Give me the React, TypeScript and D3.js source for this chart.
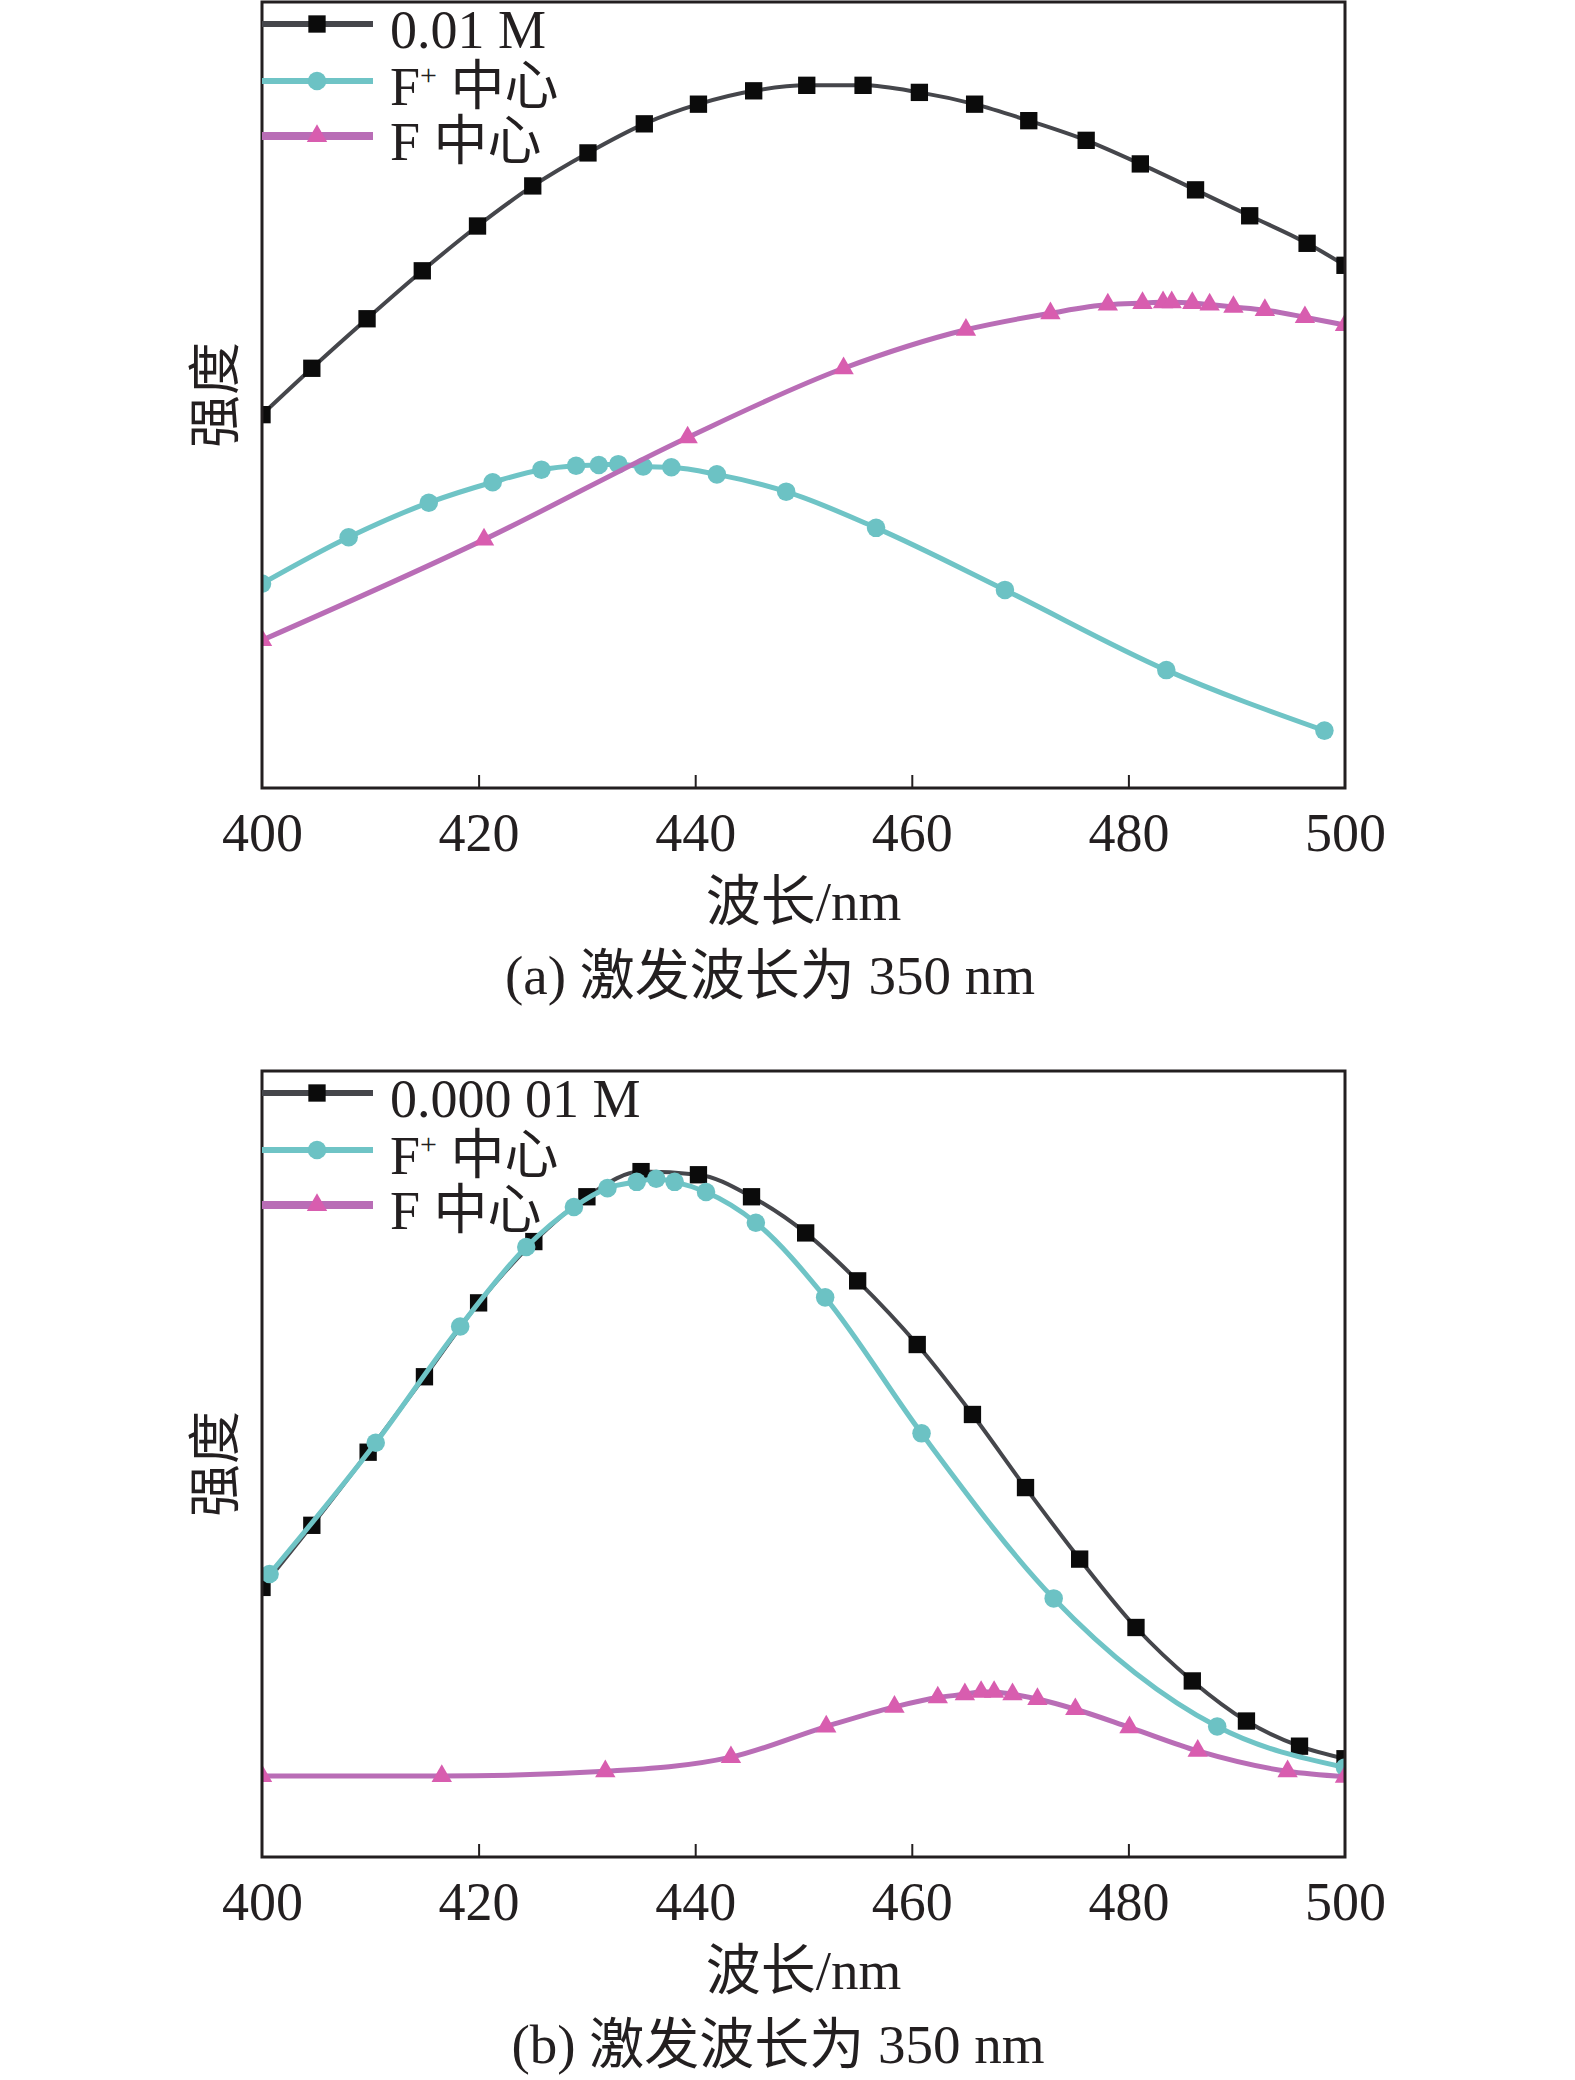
import { useEffect, useRef } from "react";
import * as d3 from "d3";

// x axis
const xTicks = [400, 420, 440, 460, 480, 500];

// (a) 0.01 M sample, excitation 350 nm (intensity in arbitrary units 0-100)
const aSampleX = [400, 404.6, 409.7, 414.8, 419.9, 425.0, 430.1, 435.3, 440.3, 445.4, 450.3, 455.5, 460.7, 465.8, 470.8, 476.1, 481.1, 486.2, 491.2, 496.5, 500];
const aSampleY = [47.5, 53.4, 59.7, 65.8, 71.5, 76.6, 80.8, 84.5, 87.0, 88.7, 89.4, 89.4, 88.5, 87.0, 84.9, 82.4, 79.4, 76.1, 72.8, 69.3, 66.5];
const aFplusX = [400, 408.0, 415.4, 421.3, 425.8, 429.0, 431.1, 432.9, 435.2, 437.8, 442.0, 448.4, 456.7, 468.6, 483.5, 498.1];
const aFplusY = [26.0, 31.9, 36.3, 38.9, 40.5, 41.0, 41.1, 41.2, 40.9, 40.8, 39.9, 37.7, 33.1, 25.2, 15.0, 7.3];
const aFX = [400, 420.5, 439.3, 453.7, 465.0, 472.8, 478.1, 481.3, 483.2, 484.0, 485.9, 487.5, 489.7, 492.6, 496.3, 500];
const aFY = [18.8, 31.6, 44.6, 53.4, 58.3, 60.4, 61.5, 61.7, 61.8, 61.8, 61.7, 61.5, 61.2, 60.8, 59.9, 58.9];

// (b) 0.000 01 M sample
const bSampleX = [400, 404.6, 409.8, 415.0, 420.0, 425.1, 430.0, 435.0, 440.3, 445.2, 450.2, 455.0, 460.5, 465.6, 470.5, 475.5, 480.7, 485.9, 490.9, 495.8, 500];
const bSampleY = [34.3, 42.2, 51.5, 61.1, 70.5, 78.3, 84.0, 87.2, 86.8, 84.0, 79.4, 73.3, 65.2, 56.3, 47.0, 37.9, 29.2, 22.4, 17.3, 14.1, 12.5];
const bFplusX = [400.7, 410.5, 418.3, 424.4, 428.8, 431.9, 434.6, 436.4, 438.1, 441.0, 445.6, 452.0, 460.9, 473.1, 488.2, 500];
const bFplusY = [36.0, 52.7, 67.5, 77.6, 82.7, 85.1, 85.9, 86.3, 85.9, 84.6, 80.7, 71.2, 53.9, 32.9, 16.6, 11.4];
const bFX = [400, 416.6, 431.7, 443.3, 452.1, 458.4, 462.4, 464.9, 466.4, 467.6, 469.3, 471.6, 475.1, 480.1, 486.4, 494.7, 500];
const bFY = [10.3, 10.3, 10.9, 12.7, 16.6, 19.1, 20.3, 20.7, 21.0, 21.0, 20.7, 20.1, 18.8, 16.5, 13.5, 10.9, 10.2];

const PLOT_LEFT = 262;
const PLOT_RIGHT = 1345;
const PLOT_H = 786;
const INK = "#231f20";
const FONT = '"Liberation Serif", "Times New Roman", "Noto Sans CJK SC", serif';

interface Series {
  xs: number[];
  ys: number[];
  label: string;
  sup?: string;
  tail?: string;
  lineColor: string;
  markerColor: string;
  lineWidth: number;
  legendWidth: number;
  shape: d3.SymbolType;
  markerSize: number;
}

interface PanelProps {
  id: string;
  top: number;
  caption: string;
  captionX: number;
  series: Series[];
}

const style = {
  sample: { lineColor: "#45464b", markerColor: "#0b0b0b", lineWidth: 4, legendWidth: 6, shape: d3.symbolSquare, markerSize: 300 },
  fplus: { lineColor: "#6fc4c6", markerColor: "#6cc2c4", lineWidth: 5, legendWidth: 6, shape: d3.symbolCircle, markerSize: 270 },
  f: { lineColor: "#b96db6", markerColor: "#d85daf", lineWidth: 5, legendWidth: 8, shape: d3.symbolTriangle, markerSize: 180 },
};

function Panel({ id, top, caption, captionX, series }: PanelProps) {
  const gRef = useRef<SVGGElement>(null);

  useEffect(() => {
    if (!gRef.current) return;
    const g = d3.select(gRef.current);
    g.selectAll("*").remove();

    const bottom = top + PLOT_H;
    const x = d3.scaleLinear().domain([400, 500]).range([PLOT_LEFT, PLOT_RIGHT]);
    const y = d3.scaleLinear().domain([0, 100]).range([bottom, top]);

    g.append("clipPath")
      .attr("id", `clip-${id}`)
      .append("rect")
      .attr("x", PLOT_LEFT)
      .attr("y", top)
      .attr("width", PLOT_RIGHT - PLOT_LEFT)
      .attr("height", PLOT_H);

    const plot = g.append("g").attr("clip-path", `url(#clip-${id})`);

    const line = d3
      .line<[number, number]>()
      .x((d) => x(d[0]))
      .y((d) => y(d[1]))
      .curve(d3.curveMonotoneX);

    series.forEach((s) => {
      const pts = s.xs.map((v, i) => [v, s.ys[i]] as [number, number]);
      plot
        .append("path")
        .datum(pts)
        .attr("fill", "none")
        .attr("stroke", s.lineColor)
        .attr("stroke-width", s.lineWidth)
        .attr("stroke-linejoin", "round")
        .attr("d", line);

      const sym = d3.symbol().type(s.shape).size(s.markerSize);
      plot
        .append("g")
        .selectAll("path")
        .data(pts)
        .join("path")
        .attr("transform", (d) => `translate(${x(d[0])},${y(d[1])})`)
        .attr("d", sym)
        .attr("fill", s.markerColor);
    });

    // frame
    g.append("rect")
      .attr("x", PLOT_LEFT)
      .attr("y", top)
      .attr("width", PLOT_RIGHT - PLOT_LEFT)
      .attr("height", PLOT_H)
      .attr("fill", "none")
      .attr("stroke", INK)
      .attr("stroke-width", 3);

    // bottom axis, ticks pointing inward
    const ax = g
      .append("g")
      .attr("transform", `translate(0,${bottom})`)
      .call(
        d3
          .axisBottom(x)
          .tickValues(xTicks)
          .tickSizeInner(-13)
          .tickSizeOuter(0)
          .tickPadding(25)
          .tickFormat(d3.format("d"))
      )
      .attr("font-size", 54)
      .attr("font-family", FONT);
    ax.select(".domain").remove();
    ax.selectAll(".tick line")
      .attr("stroke", INK)
      .attr("stroke-width", 2)
      .filter((d) => d === 400 || d === 500)
      .remove();
    ax.selectAll(".tick text").attr("fill", INK);

    // legend
    const rows = [22, 79, 134];
    series.forEach((s, i) => {
      const ly = top + rows[i];
      g.append("line")
        .attr("x1", PLOT_LEFT)
        .attr("x2", 373)
        .attr("y1", ly)
        .attr("y2", ly)
        .attr("stroke", s.lineColor)
        .attr("stroke-width", s.legendWidth);
      g.append("path")
        .attr("transform", `translate(317,${ly})`)
        .attr("d", d3.symbol().type(s.shape).size(s.markerSize)())
        .attr("fill", s.markerColor);
      const t = g
        .append("text")
        .attr("x", 390)
        .attr("y", ly + 24)
        .attr("font-size", 54)
        .attr("font-family", FONT)
        .attr("fill", INK);
      t.append("tspan").text(s.label);
      if (s.sup) {
        t.append("tspan").attr("font-size", 30).attr("dy", -20).text(s.sup);
        t.append("tspan").attr("dy", 20).text(s.tail ?? "");
      }
    });

    // y label
    g.append("text")
      .attr("transform", `translate(216,${top + PLOT_H / 2}) rotate(-90)`)
      .attr("text-anchor", "middle")
      .attr("dominant-baseline", "central")
      .attr("font-size", 53)
      .attr("font-family", FONT)
      .attr("fill", INK)
      .text("强度");

    // x label
    g.append("text")
      .attr("x", (PLOT_LEFT + PLOT_RIGHT) / 2)
      .attr("y", bottom + 132)
      .attr("text-anchor", "middle")
      .attr("font-size", 55)
      .attr("font-family", FONT)
      .attr("fill", INK)
      .text("波长/nm");

    // caption
    g.append("text")
      .attr("x", captionX)
      .attr("y", bottom + 206)
      .attr("text-anchor", "middle")
      .attr("font-size", 55)
      .attr("font-family", FONT)
      .attr("fill", INK)
      .text(caption);
  }, [id, top, caption, captionX, series]);

  return <g ref={gRef} />;
}

const panelA: Series[] = [
  { xs: aSampleX, ys: aSampleY, label: "0.01 M", ...style.sample },
  { xs: aFplusX, ys: aFplusY, label: "F", sup: "+", tail: " 中心", ...style.fplus },
  { xs: aFX, ys: aFY, label: "F 中心", ...style.f },
];

const panelB: Series[] = [
  { xs: bSampleX, ys: bSampleY, label: "0.000 01 M", ...style.sample },
  { xs: bFplusX, ys: bFplusY, label: "F", sup: "+", tail: " 中心", ...style.fplus },
  { xs: bFX, ys: bFY, label: "F 中心", ...style.f },
];

export default function App() {
  return (
    <svg
      width={1575}
      height={2080}
      style={{ position: "absolute", left: 0, top: 0, background: "#fff" }}
    >
      <rect width={1575} height={2080} fill="#fff" />
      <Panel id="a" top={2} caption="(a) 激发波长为 350 nm" captionX={770} series={panelA} />
      <Panel id="b" top={1071} caption="(b) 激发波长为 350 nm" captionX={778} series={panelB} />
    </svg>
  );
}
